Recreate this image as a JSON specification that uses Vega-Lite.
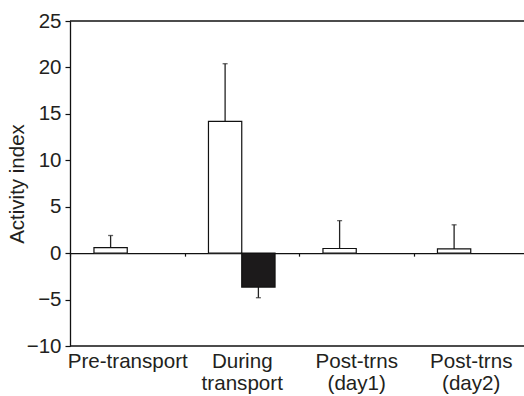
{
  "$schema": "https://vega.github.io/schema/vega-lite/v6.json",
  "autosize": "none",
  "width": 458,
  "height": 325,
  "padding": {"left": 70, "top": 21, "right": -4, "bottom": 50},
  "background": "white",
  "config": {
    "view": {"stroke": null},
    "font": "Liberation Sans",
    "axis": {"labelFont": "Liberation Sans", "titleFont": "Liberation Sans", "grid": false},
    "axisY": {
      "values": [-10, -5, 0, 5, 10, 15, 20, 25],
      "tickSize": 5,
      "tickWidth": 1.2,
      "labelPadding": 4,
      "labelFontSize": 20.5,
      "titleFontSize": 20.5,
      "titleFontWeight": "normal",
      "titleX": -43,
      "domainColor": "#111",
      "domainWidth": 1.3,
      "tickColor": "#111",
      "labelColor": "#231f20",
      "titleColor": "#231f20"
    }
  },
  "data": {
    "values": [
      {"phase": "Pre-transport", "group": "A", "value": 0.6, "err": 1.9},
      {"phase": "During transport", "group": "A", "value": 14.2, "err": 20.4},
      {"phase": "During transport", "group": "B", "value": -3.65, "err": -4.8},
      {"phase": "Post-trns (day1)", "group": "A", "value": 0.5, "err": 3.5},
      {"phase": "Post-trns (day2)", "group": "A", "value": 0.45, "err": 3.05}
    ]
  },
  "layer": [
    {
      "data": {"values": [{}]},
      "mark": {"type": "rule", "color": "#111", "strokeWidth": 1.3},
      "encoding": {
        "y": {"datum": 25, "type": "quantitative", "title": "Activity index"}
      }
    },
    {
      "data": {"values": [{}]},
      "mark": {"type": "rule", "color": "#111", "strokeWidth": 1.3},
      "encoding": {
        "y": {"datum": -10, "type": "quantitative", "title": "Activity index"}
      }
    },
    {
      "encoding": {
        "x": {
          "field": "phase",
          "type": "nominal",
          "sort": null,
          "scale": {"paddingInner": 0, "paddingOuter": 0},
          "axis": {
            "title": null,
            "orient": "bottom",
            "offset": -92.857,
            "tickBand": "extent",
            "tickSize": 3,
            "tickWidth": 1.2,
            "tickColor": "#111",
            "domainColor": "#111",
            "domainWidth": 1.3,
            "labelPadding": 95,
            "labelExpr": "split(datum.label, ' ')",
            "labelFontSize": 20.6,
            "labelLineHeight": 22,
            "labelAngle": 0,
            "labelDx": 5,
            "labelColor": "#231f20"
          }
        },
        "xOffset": {
          "field": "group",
          "type": "nominal",
          "scale": {"domain": ["A", "B"], "paddingOuter": 0.72, "paddingInner": 0}
        }
      },
      "layer": [
        {
          "mark": {"type": "rule", "color": "#222", "strokeWidth": 1.3},
          "encoding": {
            "y": {
              "field": "value",
              "type": "quantitative",
              "scale": {"domain": [-10, 25], "nice": false},
              "title": "Activity index"
            },
            "y2": {"field": "err"}
          }
        },
        {
          "mark": {"type": "tick", "color": "#222", "size": 5, "thickness": 1.3},
          "encoding": {
            "y": {"field": "err", "type": "quantitative", "title": "Activity index"}
          }
        },
        {
          "mark": {"type": "bar", "stroke": "#111", "strokeWidth": 1.2},
          "encoding": {
            "y": {"field": "value", "type": "quantitative", "title": "Activity index"},
            "fill": {
              "field": "group",
              "type": "nominal",
              "scale": {"domain": ["A", "B"], "range": ["white", "#1c1a1b"]},
              "legend": null
            }
          }
        }
      ]
    }
  ]
}
